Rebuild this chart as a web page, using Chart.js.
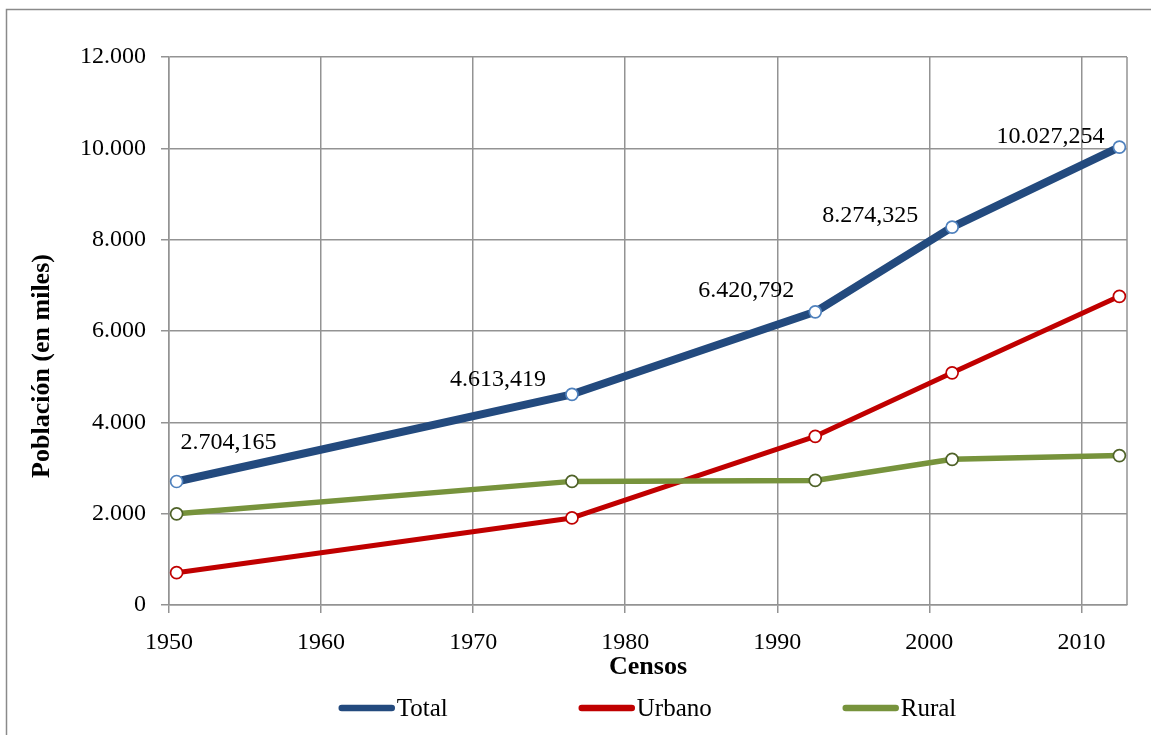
<!DOCTYPE html>
<html>
<head>
<meta charset="utf-8">
<script src="https://cdn.jsdelivr.net/npm/chart.js@4.4.0/dist/chart.umd.min.js"></script>
<style>
  html, body { margin: 0; padding: 0; background: #fff; }
</style>
</head>
<body>
<canvas id="census-graph" width="1151" height="735"></canvas>
<script>
// census dates, population in thousands
const censusYears = [1950.5, 1976.5, 1992.5, 2001.5, 2012.5];
const totalPop = [2704.165, 4613.419, 6420.792, 8274.325, 10027.254];
const urbanPop = [708, 1906, 3694, 5085, 6760];
const ruralPop = [1996, 2707, 2727, 3190, 3272];
const seriesNames = ["Total", "Urbano", "Rural"];
const xTickYears = [1950, 1960, 1970, 1980, 1990, 2000, 2010];
const yTickValues = [0, 2000, 4000, 6000, 8000, 10000, 12000];

const serif = "'Liberation Serif', 'Times New Roman', serif";
const gridColor = "#939393";
const colors = {
    total: "#234A7E", totalMarker: "#4F81BD",
    urban: "#C00000", urbanMarker: "#C00000",
    rural: "#77933C", ruralMarker: "#4F6228"
};
// where each total label sits relative to its point
const labelOffsets = [[52, -39], [-74, -15], [-69, -21], [-82, -11], [-69, -10]];

function fmtThousands(n) {
    return String(n).replace(/\B(?=(\d{3})+(?!\d))/g, ".");
}
function fmtTotal(v) {
    const parts = v.toFixed(3).split(".");
    return fmtThousands(parts[0]) + "," + parts[1];
}
function toPoints(values) {
    return values.map((v, i) => ({ x: censusYears[i], y: v }));
}

// frame, right border of the plot, total labels, y title and legend
const extras = {
    id: "extras",
    beforeDatasetsDraw(chart) {
        const ctx = chart.ctx, a = chart.chartArea;
        ctx.save();
        ctx.strokeStyle = gridColor;
        ctx.lineWidth = 1.5;
        ctx.beginPath();
        ctx.moveTo(a.right, a.top);
        ctx.lineTo(a.right, a.bottom);
        ctx.stroke();
        ctx.restore();
    },
    afterDraw(chart) {
        const ctx = chart.ctx, a = chart.chartArea;
        ctx.save();
        // outer frame (cut off on the right and bottom)
        ctx.strokeStyle = "#8a8a8a";
        ctx.lineWidth = 1.5;
        ctx.beginPath();
        ctx.moveTo(6.5, chart.height);
        ctx.lineTo(6.5, 9.5);
        ctx.lineTo(chart.width, 9.5);
        ctx.stroke();

        // data labels on the total line
        ctx.fillStyle = "#000";
        ctx.font = "24px " + serif;
        ctx.textAlign = "center";
        ctx.textBaseline = "middle";
        chart.getDatasetMeta(0).data.forEach((pt, i) => {
            ctx.fillText(fmtTotal(totalPop[i]), pt.x + labelOffsets[i][0], pt.y + labelOffsets[i][1]);
        });

        // y axis title
        ctx.save();
        ctx.translate(42, 366);
        ctx.rotate(-Math.PI / 2);
        ctx.font = "bold 26px " + serif;
        ctx.fillText("Población (en miles)", 0, 0);
        ctx.restore();

        // legend
        const lineLen = 56, gap = 130, ly = 708;
        ctx.font = "25px " + serif;
        ctx.textAlign = "left";
        const widths = chart.data.datasets.map(ds => lineLen + 3 + ctx.measureText(ds.label).width);
        const full = widths.reduce((s, w) => s + w, 0) + gap * (widths.length - 1);
        let x = (a.left + a.right) / 2 - full / 2;
        chart.data.datasets.forEach((ds, i) => {
            ctx.strokeStyle = ds.borderColor;
            ctx.lineWidth = 6.5;
            ctx.lineCap = "round";
            ctx.beginPath();
            ctx.moveTo(x + 3, ly);
            ctx.lineTo(x + lineLen - 3, ly);
            ctx.stroke();
            ctx.fillText(ds.label, x + lineLen + 2, ly + 1);
            x += widths[i] + gap;
        });
        ctx.restore();
    }
};

function lineSet(label, values, color, marker, width, order) {
    return {
        label: label,
        data: toPoints(values),
        borderColor: color,
        backgroundColor: color,
        borderWidth: width,
        borderCapStyle: "round",
        borderJoinStyle: "round",
        pointRadius: 6,
        pointBorderWidth: 1.7,
        pointBackgroundColor: "#fff",
        pointBorderColor: marker,
        tension: 0,
        order: order
    };
}

new Chart(document.getElementById("census-graph"), {
    type: "line",
    data: {
        datasets: [
            lineSet(seriesNames[0], totalPop, colors.total, colors.totalMarker, 8, 0),
            lineSet(seriesNames[1], urbanPop, colors.urban, colors.urbanMarker, 5, 2),
            lineSet(seriesNames[2], ruralPop, colors.rural, colors.ruralMarker, 5.5, 1)
        ]
    },
    options: {
        responsive: false,
        animation: false,
        layout: { padding: { top: 57, right: 24, bottom: 50, left: 0 } },
        scales: {
            x: {
                type: "linear",
                min: 1950,
                max: 2013,
                afterBuildTicks: s => { s.ticks = xTickYears.map(v => ({ value: v })); },
                afterFit: s => { s.height = 80; },
                grid: { color: gridColor, lineWidth: 1.5, tickLength: 8, tickColor: gridColor },
                border: { color: gridColor, width: 1.5 },
                ticks: {
                    color: "#000",
                    font: { family: serif, size: 24 },
                    padding: 15,
                    maxRotation: 0,
                    autoSkip: false,
                    callback: v => String(v)
                },
                title: {
                    display: true,
                    text: "Censos",
                    color: "#000",
                    font: { family: serif, size: 26, weight: "bold" },
                    padding: { top: 0, bottom: 2 }
                }
            },
            y: {
                min: 0,
                max: 12000,
                afterBuildTicks: s => { s.ticks = yTickValues.map(v => ({ value: v })); },
                afterFit: s => { s.width = 169; },
                grid: { color: gridColor, lineWidth: 1.5, tickLength: 8, tickColor: gridColor },
                border: { color: gridColor, width: 1.5 },
                ticks: {
                    color: "#000",
                    font: { family: serif, size: 24 },
                    padding: 15,
                    callback: v => fmtThousands(v)
                }
            }
        },
        plugins: {
            legend: { display: false },
            tooltip: { enabled: false }
        }
    },
    plugins: [extras]
});
</script>
</body>
</html>
